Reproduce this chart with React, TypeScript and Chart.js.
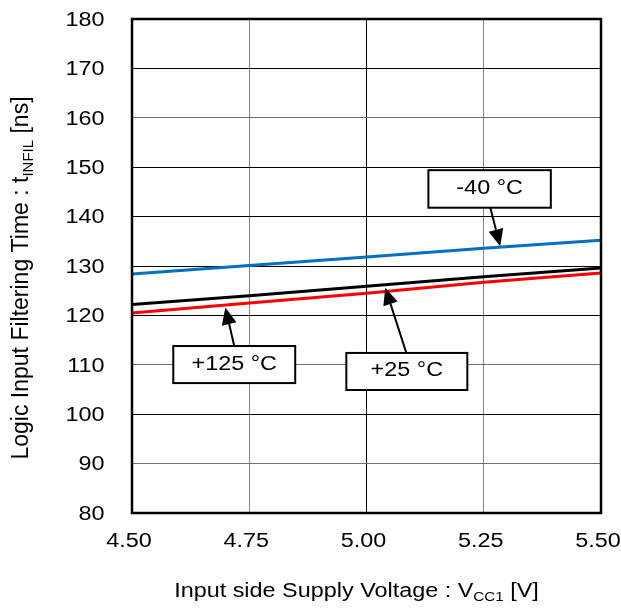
import React, { useEffect, useRef } from 'react';
import { Chart, registerables } from 'chart.js';

Chart.register(...registerables);

// ---- data ----
const voltages = [4.5, 4.75, 5.0, 5.25, 5.5];
const tInfilMinus40 = [128.4, 130.1, 131.8, 133.6, 135.2];
const tInfilPlus25 = [122.2, 124.0, 125.9, 127.8, 129.6];
const tInfilPlus125 = [120.5, 122.5, 124.5, 126.7, 128.6];

const seriesNames = ['-40 °C', '+25 °C', '+125 °C'];
const seriesColors = ['#0070C0', '#000000', '#FF0000'];

const xTickLabels = ['4.50', '4.75', '5.00', '5.25', '5.50'];
const yTickLabels = ['80', '90', '100', '110', '120', '130', '140', '150', '160', '170', '180'];

// label callouts (in data units): box extents, arrow start, arrow tip
const callouts = [
  { text: '-40 °C', x0: 5.132, x1: 5.393, y0: 141.8, y1: 149.4, ax: 5.264, ay: 141.8, tx: 5.285, ty: 134.0 },
  { text: '+125 °C', x0: 4.588, x1: 4.848, y0: 106.3, y1: 113.8, ax: 4.718, ay: 113.8, tx: 4.699, ty: 121.6 },
  { text: '+25 °C', x0: 4.957, x1: 5.215, y0: 104.9, y1: 112.4, ax: 5.085, ay: 112.4, tx: 5.040, ty: 125.6 },
];

const FONT = '"Liberation Sans", Arial, Helvetica, sans-serif';
const SX = 1.17;

type Seg = { t: string; size: number; dy?: number };

function segWidth(ctx: CanvasRenderingContext2D, segs: Seg[], sx: number) {
  let w = 0;
  for (const s of segs) {
    ctx.font = `${s.size}px ${FONT}`;
    w += ctx.measureText(s.t).width * sx;
  }
  return w;
}

function drawSegs(ctx: CanvasRenderingContext2D, segs: Seg[], x: number, y: number, align: 'left' | 'center' | 'right', sx: number) {
  const w = segWidth(ctx, segs, sx);
  let cx = align === 'center' ? x - w / 2 : align === 'right' ? x - w : x;
  ctx.save();
  ctx.fillStyle = '#000';
  ctx.textAlign = 'left';
  ctx.textBaseline = 'alphabetic';
  for (const s of segs) {
    ctx.font = `${s.size}px ${FONT}`;
    const sw = ctx.measureText(s.t).width * sx;
    ctx.save();
    ctx.translate(cx, y + (s.dy || 0));
    ctx.scale(sx, 1);
    ctx.fillText(s.t, 0, 0);
    ctx.restore();
    cx += sw;
  }
  ctx.restore();
}

const decorPlugin = {
  id: 'decor',
  afterDraw(chart: any) {
    const ctx: CanvasRenderingContext2D = chart.ctx;
    const xs = chart.scales.x;
    const ys = chart.scales.y;
    const area = chart.chartArea;

    // plot border
    ctx.save();
    ctx.strokeStyle = '#000';
    ctx.lineWidth = 2.5;
    ctx.strokeRect(area.left, area.top, area.right - area.left, area.bottom - area.top);
    ctx.restore();

    // tick labels
    for (const lbl of yTickLabels) {
      const py = ys.getPixelForValue(parseFloat(lbl));
      drawSegs(ctx, [{ t: lbl, size: 20 }], area.left - 27.5, py + 6.8, 'right', SX);
    }
    for (const lbl of xTickLabels) {
      const px = xs.getPixelForValue(parseFloat(lbl));
      drawSegs(ctx, [{ t: lbl, size: 20 }], px - 3, 547, 'center', SX);
    }

    // x title
    drawSegs(
      ctx,
      [
        { t: 'Input side Supply Voltage : V', size: 20 },
        { t: 'CC1', size: 13, dy: 4 },
        { t: ' [V]', size: 20 },
      ],
      (area.left + area.right) / 2 - 10,
      596.7,
      'center',
      SX
    );

    // y title (rotated)
    ctx.save();
    ctx.translate(27.5, 278);
    ctx.rotate(-Math.PI / 2);
    drawSegs(
      ctx,
      [
        { t: 'Logic Input Filtering Time : t', size: 23 },
        { t: 'INFIL', size: 15, dy: 5 },
        { t: ' [ns]', size: 23 },
      ],
      0,
      0,
      'center',
      1
    );
    ctx.restore();

    // callouts
    for (const c of callouts) {
      const bx0 = xs.getPixelForValue(c.x0);
      const bx1 = xs.getPixelForValue(c.x1);
      const by0 = ys.getPixelForValue(c.y1);
      const by1 = ys.getPixelForValue(c.y0);
      const sx = xs.getPixelForValue(c.ax);
      const sy = ys.getPixelForValue(c.ay);
      const tx = xs.getPixelForValue(c.tx);
      const ty = ys.getPixelForValue(c.ty);

      // arrow
      const dx = tx - sx;
      const dy = ty - sy;
      const len = Math.hypot(dx, dy);
      const ux = dx / len;
      const uy = dy / len;
      const headLen = 17;
      const headHalf = 7.5;
      const baseX = tx - ux * headLen;
      const baseY = ty - uy * headLen;
      ctx.save();
      ctx.strokeStyle = '#000';
      ctx.fillStyle = '#000';
      ctx.lineWidth = 2;
      ctx.beginPath();
      ctx.moveTo(sx, sy);
      ctx.lineTo(baseX, baseY);
      ctx.stroke();
      ctx.beginPath();
      ctx.moveTo(tx, ty);
      ctx.lineTo(baseX - uy * headHalf, baseY + ux * headHalf);
      ctx.lineTo(baseX + uy * headHalf, baseY - ux * headHalf);
      ctx.closePath();
      ctx.fill();

      // box
      ctx.fillStyle = '#fff';
      ctx.fillRect(bx0, by0, bx1 - bx0, by1 - by0);
      ctx.lineWidth = 2;
      ctx.strokeStyle = '#000';
      ctx.strokeRect(bx0, by0, bx1 - bx0, by1 - by0);
      ctx.restore();

      drawSegs(ctx, [{ t: c.text, size: 20 }], (bx0 + bx1) / 2, (by0 + by1) / 2 + 5, 'center', SX);
    }
  },
};

const grayX = [4.75, 5.25];
const grayY = [90, 110, 160];

export default function App() {
  const ref = useRef<HTMLCanvasElement>(null);

  useEffect(() => {
    const seriesValues = [tInfilMinus40, tInfilPlus25, tInfilPlus125];
    const chart = new Chart(ref.current as HTMLCanvasElement, {
      type: 'line',
      data: {
        datasets: seriesValues.map((vals, i) => ({
          label: seriesNames[i],
          data: voltages.map((v, j) => ({ x: v, y: vals[j] })),
          borderColor: seriesColors[i],
          backgroundColor: seriesColors[i],
          borderWidth: 3,
          pointRadius: 0,
          tension: 0,
          fill: false,
        })),
      },
      options: {
        responsive: false,
        devicePixelRatio: 1,
        animation: false,
        layout: { padding: { left: 0, right: 20, top: 19, bottom: 0 } },
        plugins: { legend: { display: false }, tooltip: { enabled: false } },
        scales: {
          x: {
            type: 'linear',
            min: 4.5,
            max: 5.5,
            ticks: { stepSize: 0.25, display: false },
            grid: {
              drawTicks: false,
              lineWidth: 1,
              color: (c: any) => (grayX.some((g) => Math.abs(g - c.tick?.value) < 1e-6) ? '#858585' : '#000'),
            },
            border: { display: false },
            afterFit: (s: any) => {
              s.height = 95;
            },
          },
          y: {
            type: 'linear',
            min: 80,
            max: 180,
            ticks: { stepSize: 10, display: false },
            grid: {
              drawTicks: false,
              lineWidth: 1,
              color: (c: any) => (grayY.includes(c.tick?.value) ? '#6e6e6e' : '#000'),
            },
            border: { display: false },
            afterFit: (s: any) => {
              s.width = 132;
            },
          },
        },
      },
      plugins: [decorPlugin],
    } as any);
    return () => chart.destroy();
  }, []);

  return (
    <div style={{ position: 'absolute', left: 0, top: 0, width: 621, height: 608, background: '#fff' }}>
      <canvas ref={ref} width={621} height={608} style={{ display: 'block', width: 621, height: 608 }} />
    </div>
  );
}
